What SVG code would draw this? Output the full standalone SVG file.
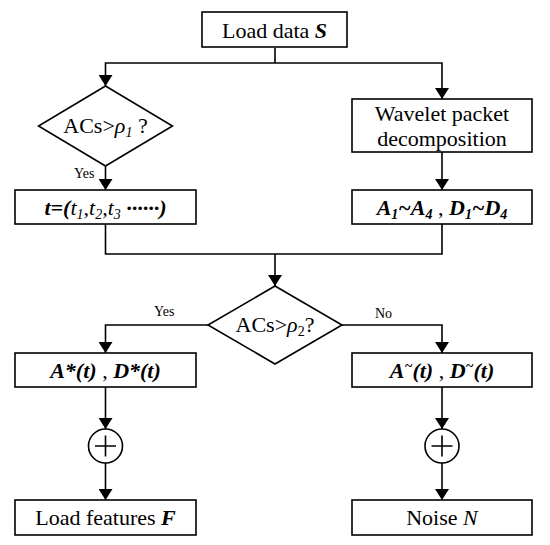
<svg xmlns="http://www.w3.org/2000/svg" width="550" height="545" viewBox="0 0 550 545">
<defs>
<marker id="ah" viewBox="0 0 11 14" refX="11" refY="7" markerWidth="11" markerHeight="14" markerUnits="userSpaceOnUse" orient="auto">
<path d="M0,0 L11,7 L0,14 Z" fill="#000"/>
</marker>
<style>
.box{fill:#fff;stroke:#000;stroke-width:1.6}
.t{font-family:"Liberation Serif","Times New Roman",serif;font-size:22px;fill:#000;text-anchor:middle}
.lbl{font-family:"Liberation Serif","Times New Roman",serif;font-size:14px;fill:#000}
.bi{font-weight:bold;font-style:italic}
.i{font-style:italic}
.c{fill:none;stroke:#000;stroke-width:1.6}
.a{fill:none;stroke:#000;stroke-width:1.6;marker-end:url(#ah)}
</style>
</defs>
<rect width="550" height="545" fill="#fff"/>
<g id="connectors">
<polyline class="c" points="275,48 275,63"/>
<polyline class="a" points="275,63 105.5,63 105.5,86"/>
<polyline class="a" points="275,63 442,63 442,99"/>
<polyline class="a" points="105.5,166 105.5,190"/>
<polyline class="a" points="442,152 442,190"/>
<polyline class="c" points="105.5,224 105.5,254 442,254 442,224"/>
<polyline class="a" points="275,254 275,286"/>
<polyline class="a" points="208,325 105.5,325 105.5,353"/>
<polyline class="a" points="342,325 442,325 442,353"/>
<polyline class="a" points="105.5,387 105.5,429"/>
<polyline class="a" points="442,387 442,429"/>
<polyline class="a" points="105.5,463 105.5,500"/>
<polyline class="a" points="442,463 442,500"/>
<text class="lbl" x="74" y="178">Yes</text>
<text class="lbl" x="154" y="316">Yes</text>
<text class="lbl" x="375" y="318">No</text>
</g>
<g id="load">
<rect class="box" x="202" y="12" width="145" height="35"/>
<text class="t" x="274.5" y="37.5">Load data <tspan class="bi">S</tspan></text>
</g>
<g id="dec1">
<polygon class="box" points="105.5,86 172.5,126 105.5,166 38.5,126"/>
<text class="t" x="105.5" y="133">ACs&gt;<tspan class="i">ρ</tspan><tspan class="i" font-size="14" dy="4">1</tspan><tspan dy="-4"> ?</tspan></text>
</g>
<g id="tbox">
<rect class="box" x="15" y="190" width="181" height="34"/>
<text class="t" x="105.5" y="214.5"><tspan class="bi">t=(</tspan><tspan class="i">t</tspan><tspan class="i" font-size="14" dy="4">1</tspan><tspan class="i" dy="-4">,t</tspan><tspan class="i" font-size="14" dy="4">2</tspan><tspan class="i" dy="-4">,t</tspan><tspan class="i" font-size="14" dy="4">3</tspan><tspan class="bi" dy="-4"> ······)</tspan></text>
</g>
<g id="wavelet">
<rect class="box" x="352" y="99" width="180" height="53"/>
<text class="t" x="442" y="121">Wavelet packet</text>
<text class="t" x="442" y="146">decomposition</text>
</g>
<g id="coeffs">
<rect class="box" x="352" y="190" width="180" height="34"/>
<text class="t" x="442" y="214.5"><tspan class="bi">A</tspan><tspan class="bi" font-size="14" dy="4">1</tspan><tspan class="bi" dy="-4">~A</tspan><tspan class="bi" font-size="14" dy="4">4</tspan><tspan dy="-4"> , </tspan><tspan class="bi">D</tspan><tspan class="bi" font-size="14" dy="4">1</tspan><tspan class="bi" dy="-4">~D</tspan><tspan class="bi" font-size="14" dy="4">4</tspan></text>
</g>
<g id="dec2">
<polygon class="box" points="275,286 342,325 275,364 208,325"/>
<text class="t" x="275" y="332">ACs&gt;<tspan class="i">ρ</tspan><tspan font-size="14" dy="4">2</tspan><tspan dy="-4">?</tspan></text>
</g>
<g id="astar">
<rect class="box" x="15" y="353" width="181" height="34"/>
<text class="t" x="105.5" y="377.5"><tspan class="bi">A*(t)</tspan><tspan> , </tspan><tspan class="bi">D*(t)</tspan></text>
</g>
<g id="atilde">
<rect class="box" x="352" y="353" width="180" height="34"/>
<text class="t" x="442" y="377.5"><tspan class="bi">A</tspan><tspan class="bi" font-size="14" dy="-7">~</tspan><tspan class="bi" dy="7">(t)</tspan><tspan> , </tspan><tspan class="bi">D</tspan><tspan class="bi" font-size="14" dy="-7">~</tspan><tspan class="bi" dy="7">(t)</tspan></text>
</g>
<g id="sum1">
<circle class="box" cx="105.5" cy="446" r="17"/>
<path class="c" d="M95,446 H116 M105.5,435.5 V456.5"/>
</g>
<g id="sum2">
<circle class="box" cx="442" cy="446" r="17"/>
<path class="c" d="M431.5,446 H452.5 M442,435.5 V456.5"/>
</g>
<g id="features">
<rect class="box" x="15" y="500" width="181" height="35"/>
<text class="t" x="105.5" y="525">Load features <tspan class="bi">F</tspan></text>
</g>
<g id="noise">
<rect class="box" x="352" y="500" width="180" height="35"/>
<text class="t" x="442" y="525">Noise <tspan class="i">N</tspan></text>
</g>
</svg>
